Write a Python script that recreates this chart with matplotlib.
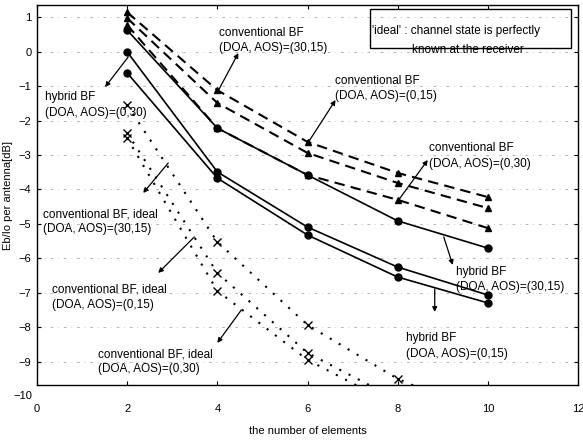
import matplotlib
matplotlib.use('Agg')
import matplotlib.pyplot as plt
import numpy as np
from matplotlib.patches import Rectangle

plt.rcParams['font.family'] = ['Liberation Sans', 'DejaVu Sans']

# number of array elements
n_elements = [2, 4, 6, 8, 10]

# conventional BF (dashed, triangles)
conv_30_15 = [1.14, -1.12, -2.62, -3.52, -4.22]
conv_0_15 = [0.97, -1.49, -2.94, -3.81, -4.54]
conv_0_30 = [0.77, -2.22, -3.58, -4.30, -5.12]

# hybrid BF (solid, circles)
hyb_30_15 = [0.62, -2.22, -3.58, -4.91, -5.70]
hyb_0_30 = [-0.01, -3.49, -5.09, -6.25, -7.06]
hyb_0_15 = [-0.62, -3.67, -5.32, -6.54, -7.29]

# conventional BF, ideal (dotted, x) - last points run below the axis
ideal_30_15 = [-1.55, -5.52, -7.93, -9.49, -10.6]
ideal_0_15 = [-2.36, -6.42, -8.74, -10.1, np.nan]
ideal_0_30 = [-2.51, -6.94, -8.94, -10.3, np.nan]

fig = plt.figure(figsize=(5.83, 4.45), dpi=100)
ax = fig.add_axes([37/583, 1-385/445, (578-37)/583, 380/445])

dash = (0, (5, 3))
dot = (0, (1, 4))
for ys in [conv_30_15, conv_0_15, conv_0_30]:
    ax.plot(n_elements, ys, color='black', linestyle=dash, lw=1.5,
            marker='^', ms=5, mfc='black', mec='black')
for ys in [hyb_30_15, hyb_0_30, hyb_0_15]:
    ax.plot(n_elements, ys, color='black', linestyle='-', lw=1.2,
            marker='o', ms=5, mfc='black', mec='black')
for ys in [ideal_30_15, ideal_0_15, ideal_0_30]:
    ax.plot(n_elements, ys, color='black', linestyle=dot, lw=1.5,
            marker='x', ms=6, mew=1.0, mec='black')

ax.set_xlim(0, 12)
ax.set_ylim(-9.67, 1.35)
ax.set_xticks(range(0, 13, 2))
ax.set_yticks(range(-9, 2))
ax.tick_params(direction='in', length=3, labelsize=8, top=True, right=True)
ax.tick_params(axis='x', pad=14)
ax.tick_params(axis='y', pad=4)
# the -10 label sits below the frame in the original
ax.text(-0.1, -10.0, '−10', ha='right', va='center', fontsize=8, clip_on=False)
ax.yaxis.grid(True, color='0.6', linestyle=(0, (4, 7, 1, 7)), lw=0.5)

ax.set_xlabel('the number of elements', fontsize=8, labelpad=8)
ax.set_ylabel('Eb/Io per antenna[dB]', fontsize=8, labelpad=4)

for s in ax.spines.values():
    s.set_linewidth(1.0)

fs = 8.5
ls = 1.35
ax.text(4.04, 0.33, 'conventional BF\n(DOA, AOS)=(30,15)', fontsize=fs, ha='left', va='center', linespacing=ls)
ax.text(6.62, -1.06, 'conventional BF\n(DOA, AOS)=(0,15)', fontsize=fs, ha='left', va='center', linespacing=ls)
ax.text(8.69, -3.03, 'conventional BF\n(DOA, AOS)=(0,30)', fontsize=fs, ha='left', va='center', linespacing=ls)
ax.text(0.18, -1.55, 'hybrid BF\n(DOA, AOS)=(0,30)', fontsize=fs, ha='left', va='center', linespacing=ls)
ax.text(0.13, -4.94, 'conventional BF, ideal\n(DOA, AOS)=(30,15)', fontsize=fs, ha='left', va='center', linespacing=ls)
ax.text(0.33, -7.12, 'conventional BF, ideal\n(DOA, AOS)=(0,15)', fontsize=fs, ha='left', va='center', linespacing=ls)
ax.text(1.36, -9.0, 'conventional BF, ideal\n(DOA, AOS)=(0,30)', fontsize=fs, ha='left', va='center', linespacing=ls)
ax.text(9.29, -6.62, 'hybrid BF\n(DOA, AOS)=(30,15)', fontsize=fs, ha='left', va='center', linespacing=ls)
ax.text(8.18, -8.54, 'hybrid BF\n(DOA, AOS)=(0,15)', fontsize=fs, ha='left', va='center', linespacing=ls)

# note box
ax.add_patch(Rectangle((7.38, 0.101), 11.84-7.38, 1.232-0.101, fill=False,
                       edgecolor='black', lw=1.0))
ax.text(7.44, 0.59, "'ideal' : channel state is perfectly", fontsize=fs, ha='left', va='center')
ax.text(9.56, 0.04, 'known at the receiver', fontsize=fs, ha='center', va='center')

# arrows: (tail on curve, head at label)
arrows = [
    ((4.022, -1.130), (4.467, -0.043)),
    ((6.022, -2.623), (6.622, -1.406)),
    ((8.022, -4.304), (8.667, -3.145)),
    ((2.022, -0.159), (1.511, -1.029)),
    ((2.911, -3.232), (2.356, -4.101)),
    ((3.489, -5.377), (2.689, -6.420)),
    ((4.533, -7.493), (4.000, -8.449)),
    ((9.022, -5.377), (9.222, -6.188)),
    ((8.822, -6.884), (8.822, -7.551)),
]
for tail, head in arrows:
    ax.annotate('', xy=head, xytext=tail,
                arrowprops=dict(arrowstyle='-|>', color='black', lw=0.9,
                                mutation_scale=7, shrinkA=0, shrinkB=0))

fig.savefig('out.png', dpi=100)
